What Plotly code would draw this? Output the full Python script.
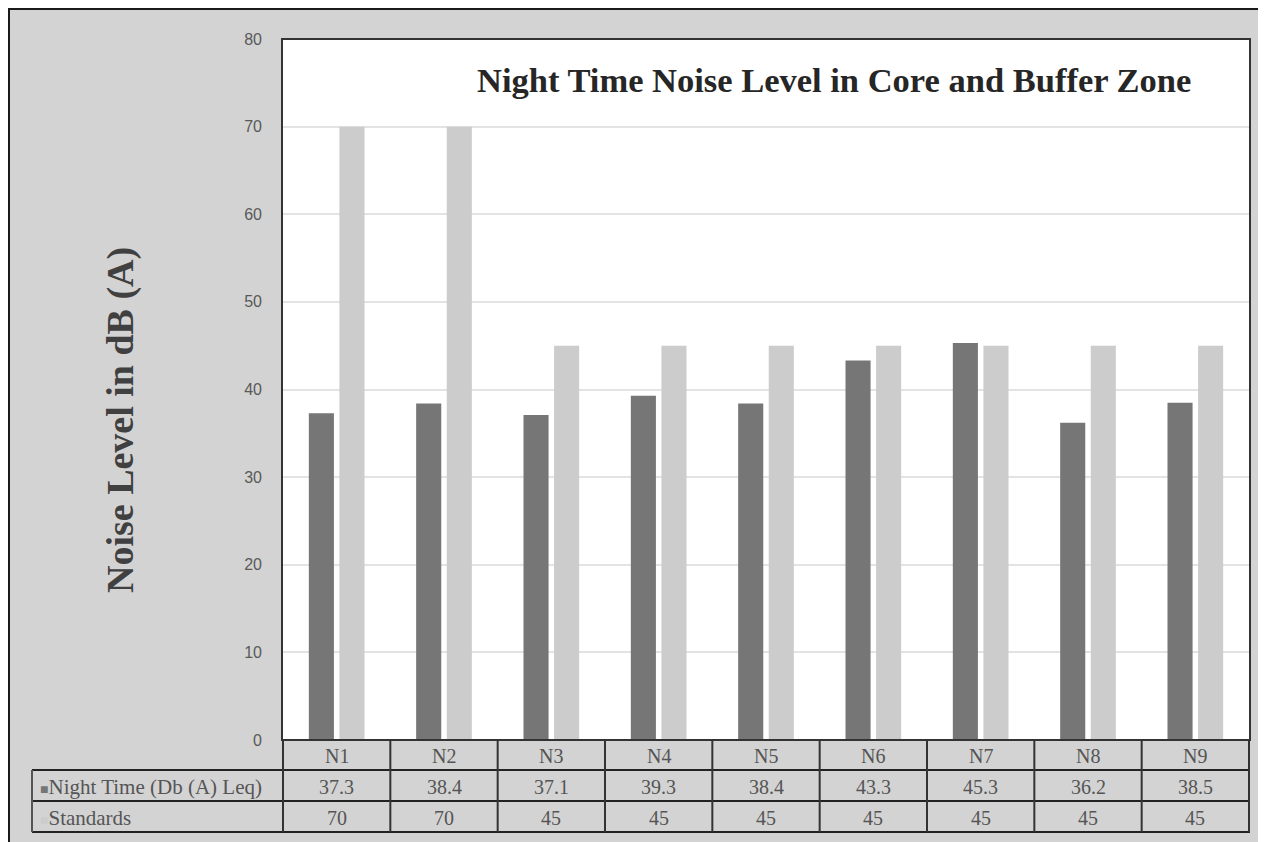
import plotly.graph_objects as go

sites = ["N1", "N2", "N3", "N4", "N5", "N6", "N7", "N8", "N9"]
night_time = [37.3, 38.4, 37.1, 39.3, 38.4, 43.3, 45.3, 36.2, 38.5]
standards = [70, 70, 45, 45, 45, 45, 45, 45, 45]
row_names = ["Night Time (Db (A) Leq)", "Standards"]
colors = ["#767676", "#cccccc"]

# page has an 8px body margin, so the figure starts at screen (8, 8)
OFF = 8
W, H = 1256, 834
L, R, T, B = 282, 1250, 39, 740  # plot area, screen pixels


def px(x):  # screen pixel -> paper x
    return (x - L) / (R - L)


def py(y):  # screen pixel -> paper y
    return (B - y) / (B - T)


fig = go.Figure()
fig.add_trace(go.Bar(x=sites, y=night_time, name=row_names[0], marker_color=colors[0], marker_line_width=0))
fig.add_trace(go.Bar(x=sites, y=standards, name=row_names[1], marker_color=colors[1], marker_line_width=0))

serif = "Liberation Serif"
shapes = []
# outer frame
shapes.append(dict(type="rect", xref="paper", yref="paper", x0=px(9), x1=px(1262), y0=py(870), y1=py(9),
                   line=dict(color="#1a1a1a", width=2), fillcolor="rgba(0,0,0,0)", layer="below"))
# plot border
shapes.append(dict(type="rect", xref="paper", yref="paper", x0=0, x1=1, y0=0, y1=1,
                   line=dict(color="#333333", width=2)))
# table rows
row_y = [740, 770, 801, 832]
for y in row_y[1:]:
    shapes.append(dict(type="line", xref="paper", yref="paper", x0=px(32), x1=1, y0=py(y), y1=py(y),
                       line=dict(color="#222222", width=2)))
shapes.append(dict(type="line", xref="paper", yref="paper", x0=px(32), x1=px(32), y0=py(770), y1=py(832),
                   line=dict(color="#555555", width=2)))
for i in range(len(sites) + 1):
    shapes.append(dict(type="line", xref="x", yref="paper", x0=i - 0.5, x1=i - 0.5, y0=py(740), y1=py(832),
                       line=dict(color="#333333", width=2)))

annotations = []
text_color = "#555555"
for i, s in enumerate(sites):
    for val, (y0, y1) in zip([s, night_time[i], standards[i]], zip(row_y[:-1], row_y[1:])):
        annotations.append(dict(x=s, y=py((y0 + y1) / 2 + 1), xref="x", yref="paper", text=str(val),
                                xanchor="center", yanchor="middle", showarrow=False,
                                font=dict(family=serif, size=20, color=text_color)))
for k, name in enumerate(row_names):
    yc = (row_y[k + 1] + row_y[k + 2]) / 2 + 1
    annotations.append(dict(x=px(38), y=py(yc), xref="paper", yref="paper", xanchor="left", yanchor="middle",
                            text="<span style='color:%s;font-size:14px'>■</span>%s" % (colors[k], name),
                            showarrow=False, font=dict(family=serif, size=21, color=text_color)))
annotations.append(dict(x=px(475), y=py(80), xref="paper", yref="paper", xanchor="left", yanchor="middle",
                        text="<b>Night Time Noise Level in Core and Buffer Zone</b>", showarrow=False,
                        font=dict(family=serif, size=34.5, color="#262626")))
annotations.append(dict(x=px(121), y=py(420), xref="paper", yref="paper", xanchor="center", yanchor="middle",
                        text="<b>Noise Level in dB (A)</b>", textangle=-90, showarrow=False,
                        font=dict(family=serif, size=38, color="#404040")))

fig.update_layout(
    width=W, height=H,
    margin=dict(l=L - OFF, r=OFF + W - R, t=T - OFF, b=OFF + H - B),
    paper_bgcolor="#d3d3d3", plot_bgcolor="white",
    barmode="group", bargap=0.43, bargroupgap=0.18,
    showlegend=False,
    shapes=shapes, annotations=annotations,
)
fig.update_xaxes(showticklabels=False, showgrid=False, ticks="")
fig.update_yaxes(
    range=[0, 80], dtick=10, showgrid=True, gridcolor="#e3e3e3", gridwidth=2,
    zeroline=False, ticks="", ticklabelstandoff=19,
    tickfont=dict(family="Liberation Sans", size=16, color="#595959"),
)
fig.write_html("out.html")
